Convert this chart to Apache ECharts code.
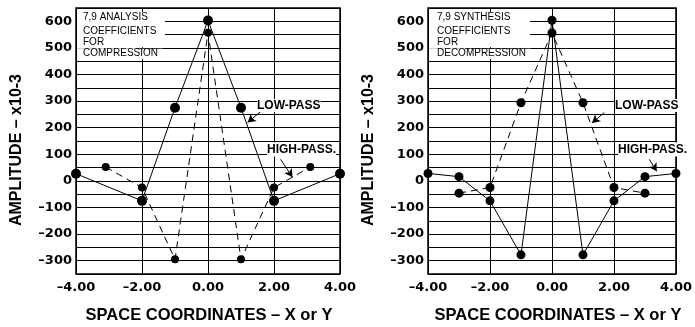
<!DOCTYPE html>
<html>
<head>
<meta charset="utf-8">
<script src="https://cdn.jsdelivr.net/npm/echarts@6/dist/echarts.min.js"></script>
<style>html,body{margin:0;padding:0;background:#fff;}#c{width:695px;height:327px;}</style>
</head>
<body>
<div id="c"></div>
<script>
// ---- data (amplitude x10^-3) ----
const xAnalysisLow  = [-4, -2, -1, 0, 1, 2, 4];
const yAnalysisLow  = [27, -75, 275, 603, 275, -75, 27];
const xAnalysisHigh = [-3.1, -2, -1, 0, 1, 2, 3.1];
const yAnalysisHigh = [52, -25, -295, 557, -295, -25, 52];
const xSynthHigh    = [-4, -3, -2, -1, 0, 1, 2, 3, 4];
const ySynthHigh    = [28, 16, -75, -278, 604, -278, -75, 16, 28];
const xSynthLow     = [-3, -2, -1, 0, 1, 2, 3];
const ySynthLow     = [-46, -25, 294, 556, 294, -25, -46];
const yTickLabels   = [-300, -200, -100, 0, 100, 200, 300, 400, 500, 600];
const xTickLabels   = [-4, -2, 0, 2, 4];
const panelNotes    = [
  ['7,9 ANALYSIS', 'COEFFICIENTS', 'FOR', 'COMPRESSION'],
  ['7,9 SYNTHESIS', 'COEFFICIENTS', 'FOR', 'DECOMPRESSION']
];
// leader lines: [from, to] in data coords
const leaders = [
  [[[1.60, 261], [1.20, 220]], [[2.20, 81], [2.56, 14]]],
  [[[1.69, 257], [1.29, 218]], [[3.14, 81], [3.38, 36]]]
];

const zip = (xs, ys) => xs.map((x, i) => [x, ys[i]]);
const dash = '\u2013';
const grids = [
  {left: 76, top: 8, width: 264, height: 266},
  {left: 428, top: 8, width: 264, height: 266}
];

const chart = echarts.init(document.getElementById('c'));

function xAxis(i) {
  return {
    type: 'value', gridIndex: i, min: -4, max: 4, interval: 2,
    axisLine: {show: false}, axisTick: {show: false},
    splitLine: {show: true, lineStyle: {color: '#000', width: 1}},
    axisLabel: {
      margin: 7, color: '#000', fontFamily: 'DejaVu Sans', fontWeight: 'bold', fontSize: 13,
      formatter: v => xTickLabels.includes(v) ? (v < 0 ? dash + (-v).toFixed(2) : v.toFixed(2)) : ''
    }
  };
}
function yAxis(i) {
  return {
    type: 'value', gridIndex: i, min: -350, max: 650, interval: 50,
    axisLine: {show: false}, axisTick: {show: false},
    splitLine: {show: true, lineStyle: {color: '#000', width: 1}},
    axisLabel: {
      margin: 4, color: '#000', fontFamily: 'DejaVu Sans', fontWeight: 'bold', fontSize: 13,
      formatter: v => yTickLabels.includes(v) ? (v < 0 ? dash + (-v) : String(v)) : ''
    }
  };
}
function lineSeries(i, data, dashed, size) {
  return {
    type: 'line', xAxisIndex: i, yAxisIndex: i, data: data,
    symbol: 'circle', symbolSize: size,
    itemStyle: {color: '#000'},
    lineStyle: {color: '#000', width: 1, type: dashed ? [7, 5] : 'solid'},
    animation: false, silent: true, z: 3
  };
}
function leaderSeries(i) {
  return {
    type: 'line', xAxisIndex: i, yAxisIndex: i, data: [], silent: true, animation: false,
    markLine: {
      silent: true, animation: false, symbol: ['none', 'arrow'], symbolSize: [7, 8],
      label: {show: false},
      lineStyle: {color: '#000', width: 1, type: 'solid'},
      data: leaders[i].map(seg => [{coord: seg[0]}, {coord: seg[1]}])
    }
  };
}

chart.setOption({
  backgroundColor: '#fff',
  animation: false,
  grid: grids.map(g => Object.assign({show: true, borderColor: '#000', borderWidth: 1.5, backgroundColor: 'transparent'}, g)),
  xAxis: [xAxis(0), xAxis(1)],
  yAxis: [yAxis(0), yAxis(1)],
  series: [
    lineSeries(0, zip(xAnalysisLow, yAnalysisLow), false, 10),
    lineSeries(0, zip(xAnalysisHigh, yAnalysisHigh), true, 8),
    lineSeries(1, zip(xSynthHigh, ySynthHigh), false, 9),
    lineSeries(1, zip(xSynthLow, ySynthLow), true, 9),
    leaderSeries(0),
    leaderSeries(1)
  ]
});

// ---- annotations ----
const g = [];
const noteEnds = [[165, 136, 163], [530, 465, 531]];
grids.forEach((gr, i) => {
  const L = gr.left;
  // masks for the note box
  g.push({type: 'rect', shape: {x: L + 1, y: 12, width: noteEnds[i][0] - L - 1, height: 35.2}, style: {fill: '#fff'}, z: 10});
  g.push({type: 'rect', shape: {x: L + 1, y: 47.2, width: noteEnds[i][1] - L - 1, height: 1.6}, style: {fill: '#fff'}, z: 10});
  g.push({type: 'rect', shape: {x: L + 1, y: 48.8, width: noteEnds[i][2] - L - 1, height: 10.5}, style: {fill: '#fff'}, z: 10});
  const ys = [17.3, 31.5, 42.5, 53.7];
  panelNotes[i].forEach((t, k) => {
    g.push({type: 'text', x: L + (i === 0 ? 7 : 9), y: ys[k], z: 11,
      style: {text: t, fill: '#000', font: '10px "Liberation Sans"', verticalAlign: 'middle', align: 'left'}});
  });
  // curve labels
  const p1 = chart.convertToPixel({gridIndex: i}, [i === 0 ? 2.5 : 2.0, 283]);
  const p2 = chart.convertToPixel({gridIndex: i}, [i === 0 ? 1.8 : 1.77, 118]);
  g.push({type: 'text', x: i === 0 ? 257 : 615, y: p1[1], z: 11,
    style: {text: 'LOW-PASS', fill: '#000', font: 'bold 12px "Liberation Sans"', verticalAlign: 'middle', align: 'left',
      backgroundColor: '#fff', padding: [1, 0, 0, 0]}});
  g.push({type: 'text', x: i === 0 ? 267 : 618, y: p2[1], z: 11,
    style: {text: 'HIGH-PASS.', fill: '#000', font: 'bold 12px "Liberation Sans"', verticalAlign: 'middle', align: 'left',
      backgroundColor: '#fff', padding: [1, 0, 1, 0]}});
  // axis titles
  g.push({type: 'text', x: i === 0 ? 16.5 : 369, y: 150, rotation: Math.PI / 2, z: 11,
    style: {text: 'AMPLITUDE ' + dash + ' x10-3', fill: '#000', font: 'bold 16px "Liberation Sans"', align: 'center', verticalAlign: 'middle'}});
  g.push({type: 'text', x: i === 0 ? 209 : 558, y: 315, z: 11,
    style: {text: 'SPACE COORDINATES ' + dash + ' X or Y', fill: '#000', font: 'bold 16.5px "Liberation Sans"', align: 'center', verticalAlign: 'middle'}});
});
chart.setOption({graphic: g});
</script>
</body>
</html>
